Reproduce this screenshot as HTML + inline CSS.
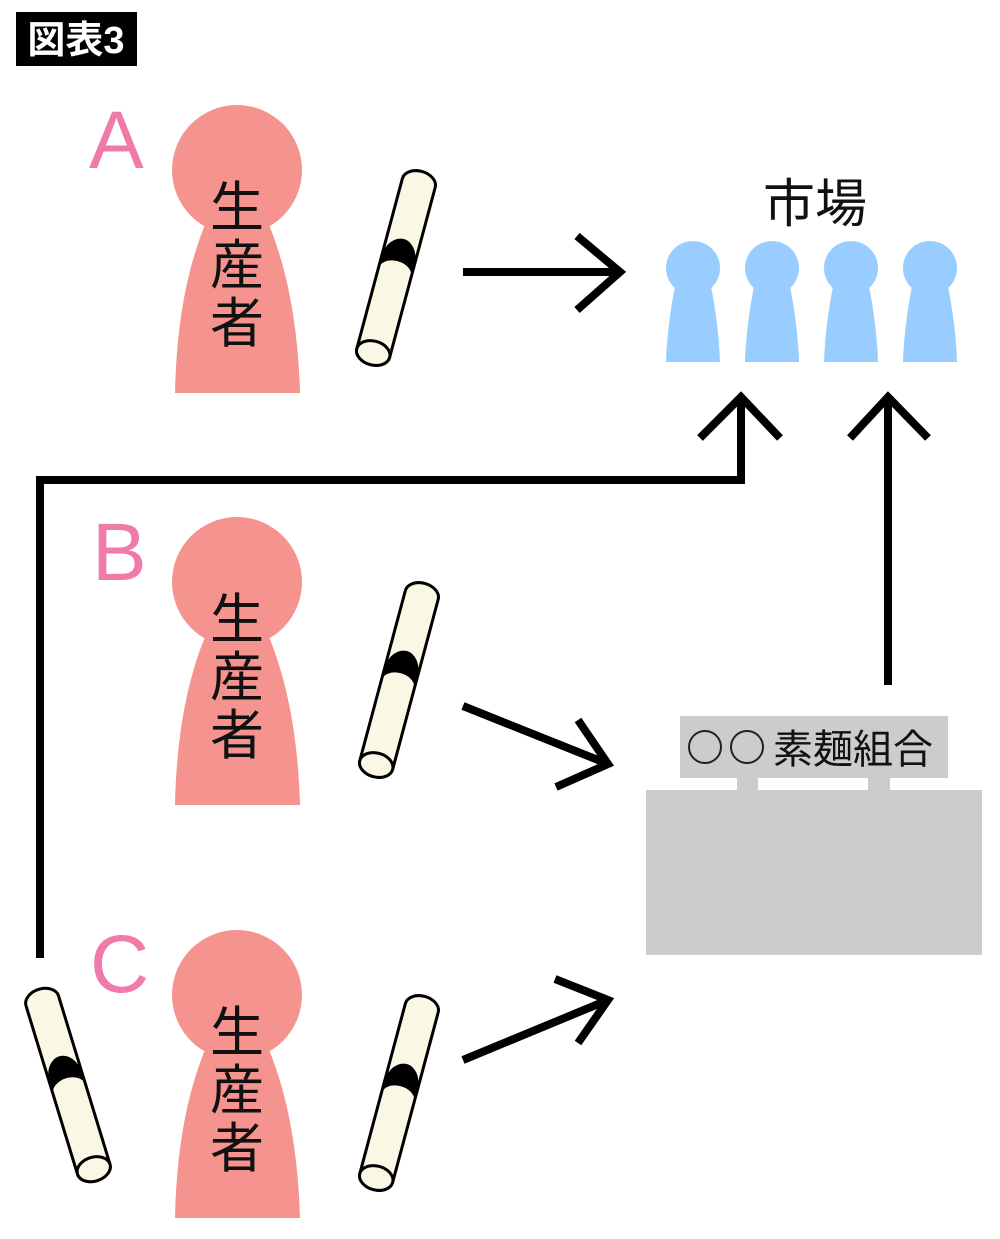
<!DOCTYPE html>
<html><head><meta charset="utf-8"><style>
body{margin:0;background:#fff}
svg text{font-family:"Liberation Sans","Noto Sans CJK JP",sans-serif}
</style></head><body>
<svg width="1000" height="1234" viewBox="0 0 1000 1234" xmlns="http://www.w3.org/2000/svg">
<defs>
<g id="person">
<circle cx="0" cy="0" r="65" fill="#F5938F"/>
<path d="M-30,50 Q-60,120 -62,223 L63,223 Q60,120 30,50 Z" fill="#F5938F"/>
<text x="0" y="56" font-size="54" text-anchor="middle" fill="#111">生</text>
<text x="0" y="114" font-size="54" text-anchor="middle" fill="#111">産</text>
<text x="0" y="172" font-size="54" text-anchor="middle" fill="#111">者</text>
</g>
<g id="noodle">
<path d="M-17,-88 A17,12 0 0 1 17,-88 L17,88 A17,12 0 0 1 -17,88 Z" fill="#FAF8E4" stroke="#000" stroke-width="3"/>
<path d="M-17,-8 A17,22 0 0 1 17,-8 L17,5 A17,12 0 0 0 -17,5 Z" fill="#000"/>
<ellipse cx="0" cy="88" rx="17" ry="12" fill="#FAF8E4" stroke="#000" stroke-width="3"/>
</g>
<g id="cust">
<circle cx="0" cy="0" r="27" fill="#99CCFF"/>
<path d="M-18,18 Q-26,60 -27,94 L27,94 Q26,60 18,18 Z" fill="#99CCFF"/>
</g>
</defs>
<rect x="16" y="12" width="121" height="54" fill="#000"/>
<text x="76" y="53" font-size="38" font-weight="bold" fill="#fff" text-anchor="middle">図表3</text>

<g fill="#F07AAA" font-size="82"><text x="89" y="168">A</text><text x="92" y="580">B</text><text x="90" y="992">C</text></g>

<use href="#person" transform="translate(237,170)"/>
<use href="#person" transform="translate(237,582)"/>
<use href="#person" transform="translate(237,995)"/>

<use href="#noodle" transform="translate(396,268) rotate(15)"/>
<use href="#noodle" transform="translate(399,680) rotate(15)"/>
<use href="#noodle" transform="translate(399,1093) rotate(15)"/>
<use href="#noodle" transform="translate(68,1085) rotate(-17)"/>

<text x="815" y="222" font-size="52" text-anchor="middle" fill="#111">市場</text>
<use href="#cust" transform="translate(693,268)"/>
<use href="#cust" transform="translate(772,268)"/>
<use href="#cust" transform="translate(851,268)"/>
<use href="#cust" transform="translate(930,268)"/>

<g stroke="#000" stroke-width="8" fill="none" stroke-linecap="butt">
<line x1="463" y1="272" x2="620" y2="272"/>
<polyline points="577,236 620,272 577,310"/>
<line x1="463" y1="706" x2="608" y2="764"/>
<polyline points="578,720 608,764 556,787"/>
<line x1="463" y1="1060" x2="608" y2="1000"/>
<polyline points="555,979 608,1000 578,1043"/>
<polyline points="40,958 40,480 741,480 741,398"/>
<polyline points="700,438 741,397 780,438"/>
<line x1="888" y1="685" x2="888" y2="398"/>
<polyline points="850,438 888,397 928,438"/>
</g>

<rect x="680" y="716" width="268" height="62" fill="#CCCCCC"/>
<circle cx="705" cy="747" r="16" fill="none" stroke="#222" stroke-width="2"/>
<circle cx="747" cy="747" r="16" fill="none" stroke="#222" stroke-width="2"/>
<text x="853" y="763" font-size="40" text-anchor="middle" fill="#111" style="font-family:'Noto Sans CJK JP',sans-serif">素麺組合</text>
<rect x="737" y="778" width="21" height="14" fill="#CCCCCC"/>
<rect x="868" y="778" width="22" height="14" fill="#CCCCCC"/>
<rect x="646" y="790" width="336" height="165" fill="#CCCCCC"/>
</svg>
</body></html>
